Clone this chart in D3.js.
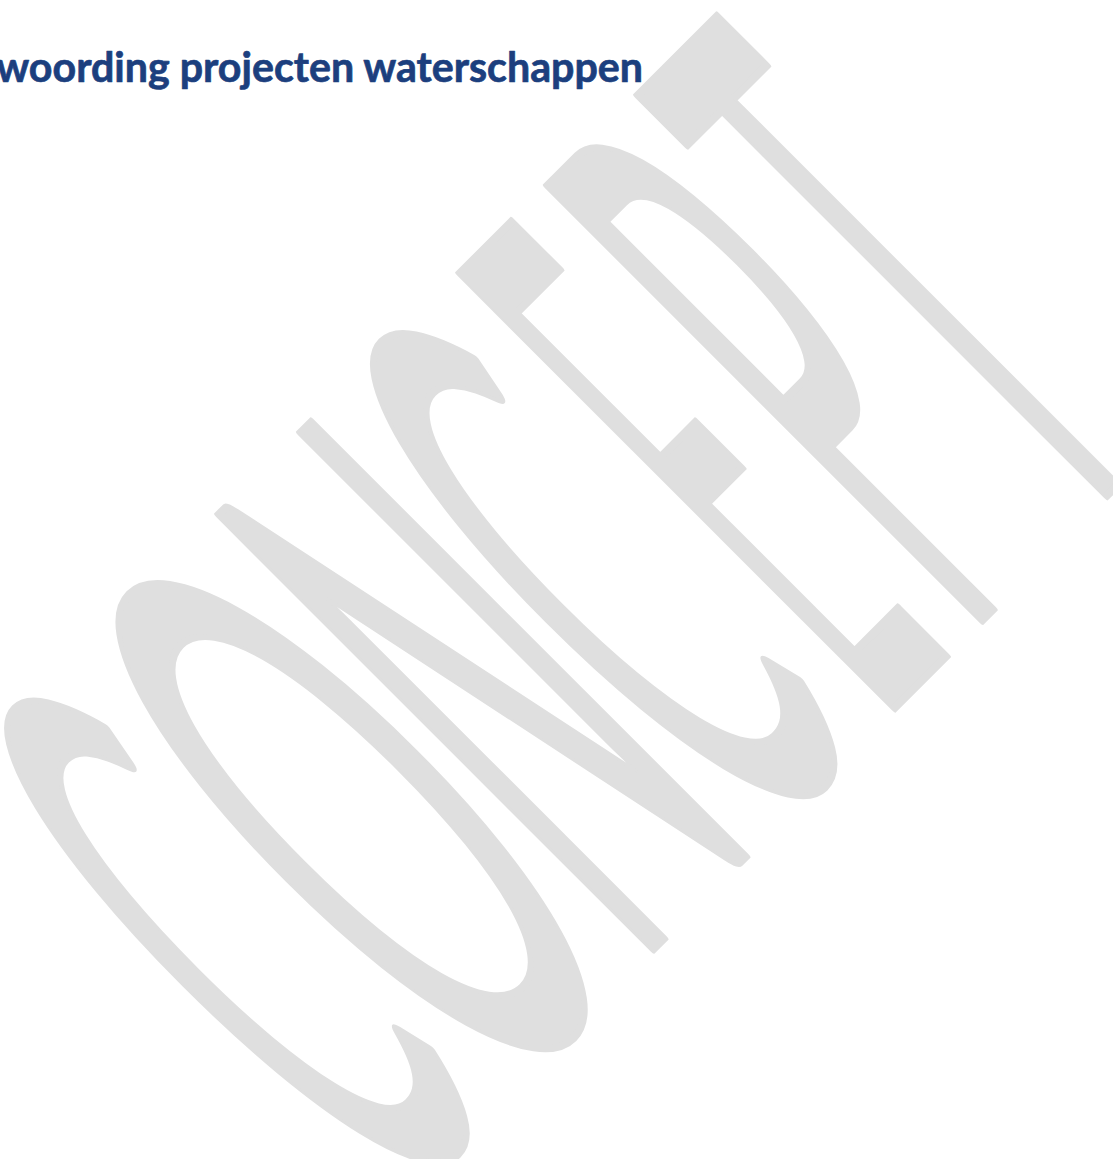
<!DOCTYPE html>
<html>
<head>
<meta charset="utf-8">
<script src="https://cdn.jsdelivr.net/npm/d3@7"></script>
<style>
  html, body { margin: 0; padding: 0; background: #ffffff; overflow: hidden; }
  svg { display: block; }
</style>
</head>
<body>
<script>
// ---- content ----
const titleText = "Verantwoording projecten waterschappen";
const titleVisible = "woording projecten waterschappen";

// watermark glyphs and their ink extent along the (rotated) baseline
const wmLetters = ["C", "O", "N", "C", "E", "P", "T"];
const wmInkStart = [-572, -425, -215, -58, 126, 250, 377];
const wmInkEnd   = [-432, -232,  -71,  90, 212, 358, 502];

// ---- layout ----
const W = 1113, H = 1159;
const wmCapTop = 504, wmBaseline = 1136, wmAngle = -45;
const wmColor = "#dfdfdf", wmStroke = 6;
const WM_FONT = 'Lato, "Liberation Sans", sans-serif';
const TITLE_FONT = 'Lato, "Open Sans", sans-serif';

const svg = d3.select("body").append("svg").attr("width", W).attr("height", H);

const ctx = document.createElement("canvas").getContext("2d");
ctx.font = `100px ${WM_FONT}`;
const cap100 = ctx.measureText("H").actualBoundingBoxAscent;
const ky = (wmBaseline - wmCapTop - wmStroke) / cap100;

// scale along the rotated baseline (identity mapping, kept explicit)
const sScale = d3.scaleLinear().domain([0, 1]).range([0, 1]);

const wm = svg.append("g").attr("transform", `rotate(${wmAngle})`);
wmLetters.forEach((ch, i) => {
  const m = ctx.measureText(ch);
  const l = -m.actualBoundingBoxLeft, r = m.actualBoundingBoxRight;
  const x0 = sScale(wmInkStart[i]) + wmStroke / 2;
  const x1 = sScale(wmInkEnd[i]) - wmStroke / 2;
  const kx = (x1 - x0) / (r - l);
  const tx = x0 - l * kx;
  wm.append("text")
    .attr("transform", `translate(${tx},${wmBaseline - wmStroke / 2}) scale(${kx},${ky})`)
    .attr("font-family", WM_FONT)
    .attr("font-size", 100)
    .attr("fill", wmColor)
    .attr("stroke", wmColor)
    .attr("stroke-width", wmStroke)
    .attr("stroke-linejoin", "round")
    .attr("vector-effect", "non-scaling-stroke")
    .style("vector-effect", "non-scaling-stroke")
    .text(ch);
});

// ---- title ----
ctx.font = `bold 100px ${TITLE_FONT}`;
const visW100 = ctx.measureText(titleVisible).width;
const titleSize = 100 * 648 / visW100;
svg.append("text")
  .attr("x", 643)
  .attr("y", 82)
  .attr("text-anchor", "end")
  .attr("font-family", TITLE_FONT)
  .attr("font-weight", 700)
  .attr("font-size", titleSize)
  .attr("fill", "#1c3f7e")
  .attr("stroke", "#1c3f7e")
  .attr("stroke-width", 0.7)
  .attr("stroke-linejoin", "round")
  .text(titleText);
</script>
</body>
</html>
